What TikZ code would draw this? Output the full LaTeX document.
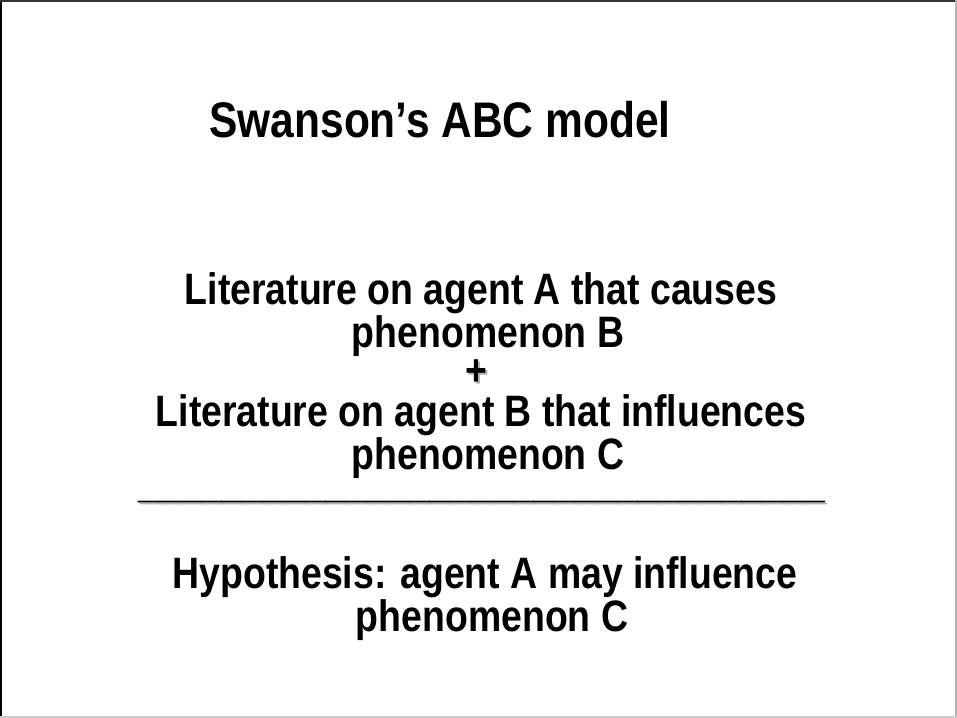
\documentclass[tikz,border=0pt]{standalone}
\usepackage{fontspec}
\setmainfont{Liberation Sans}[FakeStretch=0.85]
\usetikzlibrary{positioning}

% text with a small grey drop shadow
\newcommand{\dropshade}[1]{\makebox[0pt][l]{\hspace{2bp}\raisebox{-2bp}{\textcolor{black!30}{#1}}}#1}

\begin{document}
\begin{tikzpicture}[
  x=1bp, y=-1bp,
  title/.style={font=\bfseries\fontsize{50bp}{60bp}\selectfont, anchor=base, inner sep=0pt},
  txt/.style={font=\bfseries\fontsize{44bp}{37bp}\selectfont, align=center, anchor=base, inner sep=0pt}
]
\useasboundingbox (0,0) rectangle (957,718);
\fill[white] (0,0) rectangle (957,718);
% frame
\draw[black, line width=2.5bp] (1.2,718) -- (1.2,0);
\draw[black!80, line width=2.5bp] (0,1.2) -- (957,1.2);
\draw[black!30, line width=1.5bp] (956,0) -- (956,718);
\draw[black!20, line width=1.5bp] (957,717) -- (0,717);

\node[title] (head) at (440,138) {Swanson’s ABC model};

% base anchor sits on the last line
\node[txt] (lita) at (481,347) {Literature on agent A that causes\\\hspace*{14bp}phenomenon B};

\node[txt] (plus) at (476,385) {\dropshade{+}};

\node[txt] (litb) at (481,469) {Literature on agent B that influences\\\hspace*{14bp}phenomenon C};

\node[txt] (rule) at (482,497) {\dropshade{\_\_\_\_\_\_\_\_\_\_\_\_\_\_\_\_\_\_\_\_\_\_\_\_\_\_\_\_\_\_\_\_\_}};

\node[txt] (hyp) at (485,631) {Hypothesis: agent A may influence\\\hspace*{14bp}phenomenon C};
\end{tikzpicture}
\end{document}
